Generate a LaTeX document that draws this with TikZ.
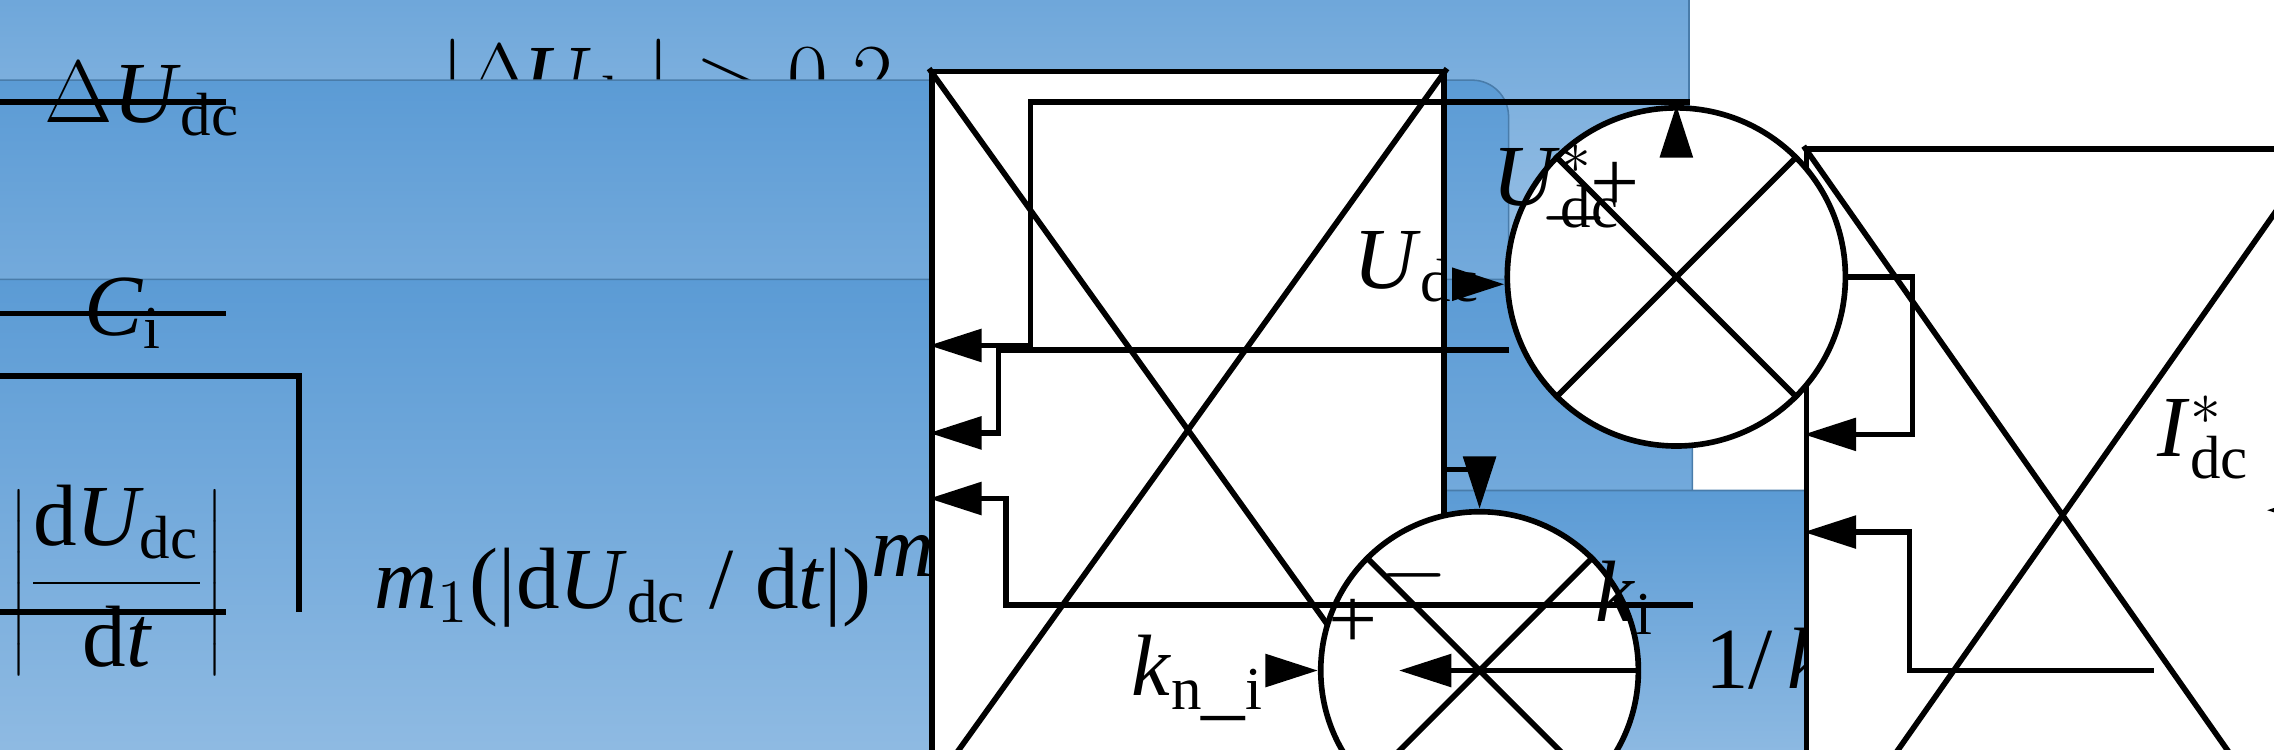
\documentclass[tikz,border=0pt]{standalone}
\usepackage{fontspec}
\setmainfont{Liberation Serif}
\usetikzlibrary{arrows.meta}
\definecolor{bA}{HTML}{5B9BD5}
\definecolor{bB}{HTML}{9DC3E6}
\begin{document}
\begin{tikzpicture}[x=0.1mm,y=-0.1mm,
 blk/.style={draw=bA!80!black,line width=0.3pt,rounded corners=2.5mm,top color=bA,bottom color=bB,font=\fontsize{17}{20}\selectfont,inner sep=0},
 mul/.style={draw,line width=1.1pt,fill=white},
 w/.style={line width=1.1pt},
 a/.style={w,-{Triangle[length=3.6mm,width=2.2mm]}},
 lab/.style={font=\fontsize{17}{20}\selectfont,inner sep=1pt}]
\useasboundingbox (0,0) rectangle (1560,514);
% blocks
\node[blk,minimum width=399,minimum height=80] (b1) at (457.5,57) {$\left|\Delta\mkern-2mu\textit{U}_{\mathrm{dc}}\right| > 0.2$};
\node[blk,minimum width=330,minimum height=105] (b2) at (455,239.5) {Comparator};
\node[blk,minimum width=400,minimum height=118] (b3) at (458,399) {\textit{m}$_{1}$(|d\textit{U}$_{\mathrm{dc}}$ / d\textit{t}|)$^{\textit{m}_2}$};
\node[blk,minimum width=147,minimum height=68] (b4) at (1218.5,456) {1/\,\textit{k}$_{\mathrm{i}}$};
% multipliers
\node[mul,minimum width=100,minimum height=140] (m1) at (815,295) {};
\draw[w] (m1.north west)--(m1.south east) (m1.south west)--(m1.north east);
\node[mul,minimum width=100,minimum height=143] (m2) at (1415,353.5) {};
\draw[w] (m2.north west)--(m2.south east) (m2.south west)--(m2.north east);
% sum circles
\node[mul,circle,minimum size=62,inner sep=0] (s1) at (1015,460) {};
\draw[w] (s1.north west)--(s1.south east) (s1.south west)--(s1.north east);
\node[mul,circle,minimum size=66,inner sep=0] (s2) at (1150,190) {};
\draw[w] (s2.north west)--(s2.south east) (s2.south west)--(s2.north east);
% labels
\node[lab] (du) at (98,68) {$\Delta$\textit{U}$_{\mathrm{dc}}$};
\node[lab] (ci) at (85,215) {\textit{C}$_{\mathrm{i}}$};
\node[lab] (dd) at (80,398) {$\left|\displaystyle\frac{\mathrm{d}\textit{U}_{\mathrm{dc}}}{\mathrm{d}\textit{t}}\right|$};
\node[lab] (kn) at (822,465) {\textit{k}$_{\mathrm{n\_i}}$};
\node[lab] (ud) at (972,183) {\textit{U}$_{\mathrm{dc}}$};
\node[lab] (us) at (1068,128) {\textit{U}$^{*}_{\mathrm{dc}}$};
\node[lab] (ki) at (1115,410) {\textit{k}$_{\mathrm{i}}$};
\node[lab] (id) at (1512,300) {\textit{I}$^{*}_{\mathrm{dc}}$};
\node[lab] at (928,428) {+};
\node[lab] at (1108,128) {+};
\node[lab] at (970,395) {$-$};
\node[lab] at (1080,150) {$-$};
% coordinates
\coordinate (c0) at (155,70);
\coordinate (c1) at (155,215);
\coordinate (c2) at (155,420);
\coordinate (t2) at (1150,85);
\coordinate (kin) at (880,460);
\coordinate (ud0) at (1010,195);
\coordinate (out) at (1555,350);
% connectors
\draw[a] (c0) -- (b1.west|-c0);
\draw[a] (c1) -- (b2.west|-c1);
\draw[a] (c2) -- (b3.west|-c2);
\draw[a] (205,420) -- (205,258) -- (b2.west|-0,258);
\draw[a] (b1.east|-0,70) -- (707,70) -- (707,237) -- (m1.west|-0,237);
\draw[a] (b2.east|-0,240) -- (685,240) -- (685,297) -- (m1.west|-0,297);
\draw[a] (b3.east|-0,415) -- (690,415) -- (690,342) -- (m1.west|-0,342);
\draw[a] (m1.east|-0,322) -- (1015,322) -- (s1.north);
\draw[a] (kin) -- (s1.west);
\draw[a] (s1.east) -- (b4.west|-s1);
\draw[a] (b4.east|-0,460) -- (1310,460) -- (1310,365) -- (m2.west|-0,365);
\draw[a] (ud0) -- (s2.west|-ud0);
\draw[a] (t2) -- (s2.north);
\draw[a] (s2.east) -- (1312,190) -- (1312,298) -- (m2.west|-0,298);
\draw[a] (m2.east|-out) -- (out);
\end{tikzpicture}
\end{document}
